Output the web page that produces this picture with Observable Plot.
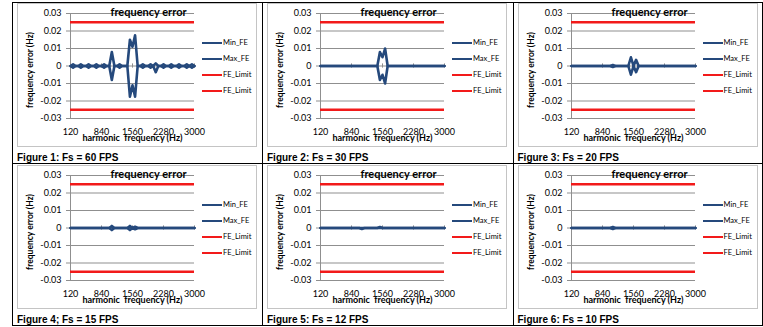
<!DOCTYPE html>
<html>
<head>
<meta charset="utf-8">
<script src="https://cdn.jsdelivr.net/npm/d3@7"></script>
<script src="https://cdn.jsdelivr.net/npm/@observablehq/plot@0.6"></script>
<style>
  body { margin: 0; background: #fff; }
  #page { position: relative; width: 763px; height: 327px; overflow: hidden; font-family: Lato, sans-serif; }
  .vline { position: absolute; width: 1px; background: #000; }
  .hline { position: absolute; height: 1px; background: #000; }
  .frame { position: absolute; border: 1px solid #c4c4c4; box-sizing: border-box; }
  .chart { position: absolute; }
  .legend-item { position: absolute; font-size: 7.5px; line-height: 8px; color: #000; white-space: nowrap; }
  .swatch { display: inline-block; width: 20px; height: 2.6px; vertical-align: middle; margin-right: 1px; }
  .caption { position: absolute; font: bold 10px "Liberation Sans", Arial, sans-serif; color: #000; white-space: nowrap; }
</style>
</head>
<body>
<div id="page"></div>
<script>
// Harmonic frequencies (Hz) on the category axis
const freqHz = [
  120, 180, 240, 300, 360, 420, 480, 540, 600, 660,
  720, 780, 840, 900, 960, 1020, 1080, 1140, 1200, 1260,
  1320, 1380, 1440, 1500, 1560, 1620, 1680, 1740, 1800, 1860,
  1920, 1980, 2040, 2100, 2160, 2220, 2280, 2340, 2400, 2460,
  2520, 2580, 2640, 2700, 2760, 2820, 2880, 2940, 3000
];
const xTickLabels = [120, 840, 1560, 2280, 3000];
const yTicks = [-0.03, -0.02, -0.01, 0, 0.01, 0.02, 0.03];
const feLimitHigh = 0.025;
const feLimitLow = -0.025;

// Fs = 60 FPS
const fs60Max = [
  0, 0.001, 0, 0, 0.001, 0, 0, 0.001, 0, 0,
  0.001, 0, 0, 0.001, 0, 0, 0.008, 0, 0, 0.001,
  0, 0, 0, 0.015, 0.011, 0.0175, 0, 0, 0.001, 0,
  0, 0.001, 0, 0.0015, 0, 0, 0.001, 0, 0, 0.001,
  0, 0, 0.001, 0, 0, 0.001, 0, 0.001, 0
];
const fs60Min = [
  0, -0.001, 0, 0, -0.001, 0, 0, -0.001, 0, 0,
  -0.001, 0, 0, -0.001, 0, 0, -0.008, 0, 0, -0.001,
  0, 0, 0, -0.0175, -0.011, -0.0175, 0, 0, -0.001, 0,
  0, -0.001, 0, -0.0035, 0, 0, -0.001, 0, 0, -0.001,
  0, 0, -0.001, 0, 0, -0.001, 0, -0.001, 0
];
// Fs = 30 FPS
const fs30Max = [
  0, 0, 0, 0, 0, 0, 0, 0, 0, 0,
  0, 0, 0, 0, 0, 0, 0, 0, 0, 0,
  0, 0, 0, 0.008, 0.005, 0.01, 0, 0, 0, 0,
  0, 0, 0, 0, 0, 0, 0, 0, 0, 0,
  0, 0, 0, 0, 0, 0, 0, 0, 0
];
const fs30Min = [
  0, 0, 0, 0, 0, 0, 0, 0, 0, 0,
  0, 0, 0, 0, 0, 0, 0, 0, 0, 0,
  0, 0, 0, -0.008, -0.005, -0.01, 0, 0, 0, 0,
  0, 0, 0, 0, 0, 0, 0, 0, 0, 0,
  0, 0, 0, 0, 0, 0, 0, 0, 0
];
// Fs = 20 FPS
const fs20Max = [
  0, 0, 0, 0, 0, 0, 0, 0, 0, 0,
  0, 0, 0, 0, 0, 0, 0.0006, 0, 0, 0,
  0, 0, 0, 0.005, 0, 0.0035, 0, 0, 0, 0,
  0, 0, 0, 0, 0, 0, 0, 0, 0, 0,
  0, 0, 0, 0, 0, 0, 0, 0, 0
];
const fs20Min = [
  0, 0, 0, 0, 0, 0, 0, 0, 0, 0,
  0, 0, 0, 0, 0, 0, -0.0006, 0, 0, 0,
  0, 0, 0, -0.005, 0, -0.0035, 0, 0, 0, 0,
  0, 0, 0, 0, 0, 0, 0, 0, 0, 0,
  0, 0, 0, 0, 0, 0, 0, 0, 0
];
// Fs = 15 FPS
const fs15Max = [
  0, 0, 0, 0, 0, 0, 0, 0, 0, 0,
  0, 0, 0, 0, 0, 0, 0.0012, 0, 0, 0,
  0, 0, 0, 0.0012, 0, 0.0007, 0, 0, 0, 0,
  0, 0, 0, 0, 0, 0, 0, 0, 0, 0,
  0, 0, 0, 0, 0, 0, 0, 0, 0
];
const fs15Min = [
  0, 0, 0, 0, 0, 0, 0, 0, 0, 0,
  0, 0, 0, 0, 0, 0, -0.0012, 0, 0, 0,
  0, 0, 0, -0.0012, 0, -0.0007, 0, 0, 0, 0,
  0, 0, 0, 0, 0, 0, 0, 0, 0, 0,
  0, 0, 0, 0, 0, 0, 0, 0, 0
];
// Fs = 12 FPS
const fs12Max = [
  0, 0, 0, 0, 0, 0, 0, 0, 0, 0,
  0, 0, 0, 0, 0, 0, 0, 0, 0, 0,
  0, 0, 0, 0.0006, 0, 0, 0, 0, 0, 0,
  0, 0, 0, 0, 0, 0, 0, 0, 0, 0,
  0, 0, 0, 0, 0, 0, 0, 0, 0
];
const fs12Min = [
  0, 0, 0, 0, 0, 0, 0, 0, 0, 0,
  0, 0, 0, 0, 0, 0, -0.0006, 0, 0, 0,
  0, 0, 0, 0, 0, 0, 0, 0, 0, 0,
  0, 0, 0, 0, 0, 0, 0, 0, 0, 0,
  0, 0, 0, 0, 0, 0, 0, 0, 0
];
// Fs = 10 FPS
const fs10Max = [
  0, 0, 0, 0, 0, 0, 0, 0, 0, 0,
  0, 0, 0, 0, 0, 0, 0.0006, 0, 0, 0,
  0, 0, 0, 0, 0, 0, 0, 0, 0, 0,
  0, 0, 0, 0, 0, 0, 0, 0, 0, 0,
  0, 0, 0, 0, 0, 0, 0, 0, 0
];
const fs10Min = [
  0, 0, 0, 0, 0, 0, 0, 0, 0, 0,
  0, 0, 0, 0, 0, 0, -0.0006, 0, 0, 0,
  0, 0, 0, 0, 0, 0, 0, 0, 0, 0,
  0, 0, 0, 0, 0, 0, 0, 0, 0, 0,
  0, 0, 0, 0, 0, 0, 0, 0, 0
];

const captions = [
  "Figure 1: Fs = 60 FPS", "Figure 2: Fs = 30 FPS", "Figure 3: Fs = 20 FPS",
  "Figure 4; Fs = 15 FPS", "Figure 5: Fs = 12 FPS", "Figure 6: Fs = 10 FPS"
];
const legendLabels = ["Min_FE", "Max_FE", "FE_Limit", "FE_Limit"];
const chartSeries = [
  [fs60Max, fs60Min], [fs30Max, fs30Min], [fs20Max, fs20Min],
  [fs15Max, fs15Min], [fs12Max, fs12Min], [fs10Max, fs10Min]
];

const BLUE = "#25497c";
const RED = "#f21a1a";
const GRID = "#8f8f8f";

// Page geometry: y-axis position for each column, top gridline for each row
const colAxisX = [70, 320, 570.5];
const rowTopY = [13, 175];

const page = document.getElementById("page");
function addDiv(cls, css, html) {
  const d = document.createElement("div");
  d.className = cls;
  Object.assign(d.style, css);
  if (html != null) d.innerHTML = html;
  page.appendChild(d);
  return d;
}

const yFmt = d => d === 0 ? "0" : d.toFixed(2);

function drawChart(maxVals, minVals) {
  const rows = freqHz.map((f, i) => ({f, max: maxVals[i], min: minVals[i]}));
  return Plot.plot({
    width: 180,
    height: 150,
    marginLeft: 53,
    marginRight: 3,
    marginTop: 13,
    marginBottom: 32,
    style: {background: "transparent", overflow: "visible", fontFamily: "Lato, sans-serif", fontSize: "9px", color: "#000"},
    x: {type: "linear", domain: [120, 3000]},
    y: {domain: [-0.03, 0.03]},
    marks: [
      Plot.ruleY(yTicks, {stroke: GRID, strokeWidth: 1}),
      Plot.ruleX([freqHz[0]], {stroke: GRID, strokeWidth: 1}),
      Plot.axisY({ticks: yTicks, tickFormat: yFmt, tickSize: 4, tickPadding: 5, stroke: GRID, label: null}),
      Plot.axisX({ticks: xTickLabels, tickFormat: d => String(d), tickSize: 0, tickPadding: 10, label: null}),
      Plot.ruleX(xTickLabels, {y1: -0.0012, y2: 0.0012, stroke: GRID, strokeWidth: 1}),
      Plot.ruleY([feLimitHigh, feLimitLow], {stroke: RED, strokeWidth: 2.6}),
      Plot.line(rows, {x: "f", y: "min", stroke: BLUE, strokeWidth: 2.6}),
      Plot.line(rows, {x: "f", y: "max", stroke: BLUE, strokeWidth: 2.6}),
      Plot.text(["frequency error"], {text: d => d, frameAnchor: "top", dx: 16, dy: -1, lineAnchor: "middle", fontWeight: "bold", fontSize: 11}),
      Plot.text(["harmonic  frequency (Hz)"], {text: d => d, frameAnchor: "bottom", dy: 20, lineAnchor: "middle", fontWeight: "bold", fontSize: 9}),
      Plot.text(["frequency error (Hz)"], {text: d => d, frameAnchor: "left", textAnchor: "middle", dx: -40, dy: 4, rotate: -90, lineAnchor: "middle", fontWeight: "bold", fontSize: 8.5})
    ]
  });
}

// Chart area outlines
chartSeries.forEach((s, k) => {
  const c = k % 3, r = Math.floor(k / 3);
  const ax = colAxisX[c], gy = rowTopY[r];
  addDiv("frame", {left: (ax - 53) + "px", top: (gy - 10) + "px", width: "240px", height: "144px"});
});

// Charts, legends, captions
chartSeries.forEach(([mx, mn], k) => {
  const c = k % 3, r = Math.floor(k / 3);
  const ax = colAxisX[c], gy = rowTopY[r];
  const holder = addDiv("chart", {left: (ax - 53) + "px", top: (gy - 13) + "px"});
  holder.appendChild(drawChart(mx, mn));
  const colors = [BLUE, BLUE, RED, RED];
  legendLabels.forEach((lab, i) => {
    addDiv("legend-item", {left: (ax + 132) + "px", top: (gy + 30 + i * 16 - 4) + "px"},
      `<span class="swatch" style="background:${colors[i]}"></span>${lab}`);
  });
  addDiv("caption", {left: (ax - 53) + "px", top: (gy + 139) + "px"}, captions[k]);
});

// Table rules
[12, 262, 513, 762].forEach(x => addDiv("vline", {left: x + "px", top: "2px", height: "324px"}));
[2, 163, 325].forEach(y => addDiv("hline", {left: "12px", top: y + "px", width: "751px"}));
</script>
</body>
</html>
